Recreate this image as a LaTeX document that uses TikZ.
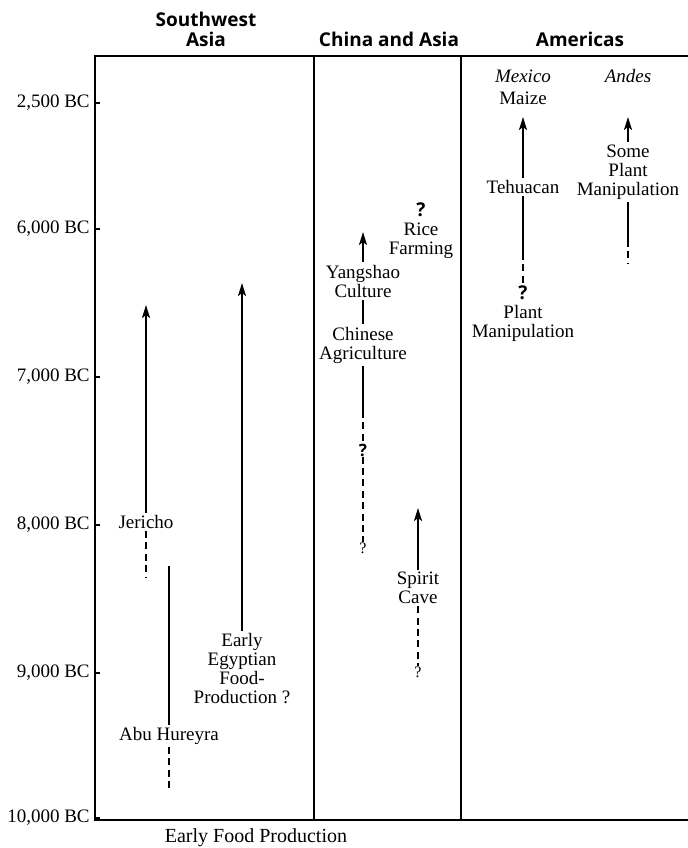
\documentclass[tikz,border=0pt]{standalone}
\usepackage{fontspec}
\setmainfont{Liberation Serif}
\newfontfamily\headfont{Open Sans}
\usetikzlibrary{arrows.meta}
\tikzset{
  lbl/.style={font=\fontsize{9.5}{9.5}\selectfont,align=center,inner sep=1pt},
  head/.style={font=\headfont\bfseries\fontsize{9.5}{10}\selectfont,align=center,inner sep=0pt},
  qmark/.style={font=\headfont\bfseries\fontsize{8.5}{8.5}\selectfont,inner sep=0pt},
  smallq/.style={font=\fontsize{8}{8}\selectfont,inner sep=0pt},
  solidline/.style={line width=1pt},
  arr/.style={line width=1pt,-{Stealth[length=6.5pt,width=4pt,inset=1.5pt]}},
  dashline/.style={line width=1pt,dash pattern=on 3.5pt off 2.2pt},
}
\begin{document}
\begin{tikzpicture}[x=0.5pt,y=-0.5pt]
    \useasboundingbox (0,0) rectangle (688,848);
    \draw[line width=1pt] (688,56) -- (95,56) -- (95,820) -- (688,820);
    \draw[line width=0.8pt] (314,56) -- (314,820);
    \draw[line width=0.8pt] (461,56) -- (461,820);
    \foreach \y/\t [count=\i] in {103/{2,500}, 229/{6,000}, 377/{7,000}, 525/{8,000}, 673/{9,000}, 818/{10,000}} {
        \draw[line width=0.6pt] (95,\y) -- (100,\y);
        \node[lbl,anchor=east] (year\i) at (92,\y) {\t{} BC};
    }
    \node[head] (swasia) at (206,29) {Southwest\\Asia};
    \node[head] (china) at (389,39) {China and Asia};
    \node[head] (americas) at (580,39) {Americas};
    \node[lbl,font=\fontsize{10}{10}\selectfont] (caption) at (256,838) {Early Food Production};

    \node[lbl] (jericho) at (146,522) {Jericho};
    \coordinate (jerichotip) at (146,305);
    \coordinate (jerichoend) at (146,577);
    \draw[arr] (jericho.north) -- (jerichotip);
    \draw[dashline] (jericho.south) -- (jerichoend);
    \node[lbl] (abu) at (169,736) {Abu Hureyra};
    \coordinate (abutop) at (169,566);
    \coordinate (abuend) at (169,791);
    \draw[solidline] (abu.north) -- (abutop);
    \draw[dashline] (abu.south) -- (abuend);
    \node[lbl] (egypt) at (242,669) {Early\\Egyptian\\Food-\\Production ?};
    \coordinate (egypttip) at (242,283);
    \draw[arr] (egypt.north) -- (egypttip);

    \node[lbl] (yangshao) at (363,281) {Yangshao\\Culture};
    \coordinate (yangshaotip) at (363,232);
    \draw[arr] (yangshao.north) -- (yangshaotip);
    \node[lbl] (chinese) at (363,345) {Chinese\\Agriculture};
    \draw[solidline] (chinese.north) -- (yangshao.south);
    \node[qmark] (chinaq) at (363,450) {?};
    \node[smallq] (chinaend) at (363,548) {?};
    \coordinate (chinesedash) at (363,411);
    \draw[solidline] (chinese.south) -- (chinesedash);
    \draw[dashline] (chinesedash) -- (chinaq.north);
    \draw[dashline] (chinaq.south) -- (chinaend.north);
    \node[lbl] (rice) at (421,231) {\headfont\bfseries ?\\Rice\\Farming};
    \node[lbl] (spirit) at (418,588) {Spirit\\Cave};
    \coordinate (spirittip) at (418,508);
    \draw[arr] (spirit.north) -- (spirittip);
    \node[smallq] (spiritend) at (418,672) {?};
    \draw[dashline] (spirit.south) -- (spiritend.north);

    \node[lbl,font=\itshape\fontsize{9.5}{9.5}\selectfont] (mexico) at (523,76) {Mexico};
    \node[lbl] (maize) at (523,98) {Maize};
    \node[lbl] (tehuacan) at (523,187) {Tehuacan};
    \coordinate (tehuacantip) at (523,117);
    \draw[arr] (tehuacan.north) -- (tehuacantip);
    \node[lbl] (plantq) at (523,314) {\headfont\bfseries ?\\Plant\\Manipulation};
    \coordinate (tehuacandash) at (523,253);
    \draw[solidline] (tehuacan.south) -- (tehuacandash);
    \draw[dashline] (tehuacandash) -- (plantq.north);

    \node[lbl,font=\itshape\fontsize{9.5}{9.5}\selectfont] (andes) at (628,76) {Andes};
    \node[lbl] (someplant) at (628,172) {Some\\Plant\\Manipulation};
    \coordinate (andestip) at (628,117);
    \coordinate (andesdash) at (628,240);
    \coordinate (andesend) at (628,263);
    \draw[arr] (someplant.north) -- (andestip);
    \draw[solidline] (someplant.south) -- (andesdash);
    \draw[dashline] (andesdash) -- (andesend);
\end{tikzpicture}
\end{document}
